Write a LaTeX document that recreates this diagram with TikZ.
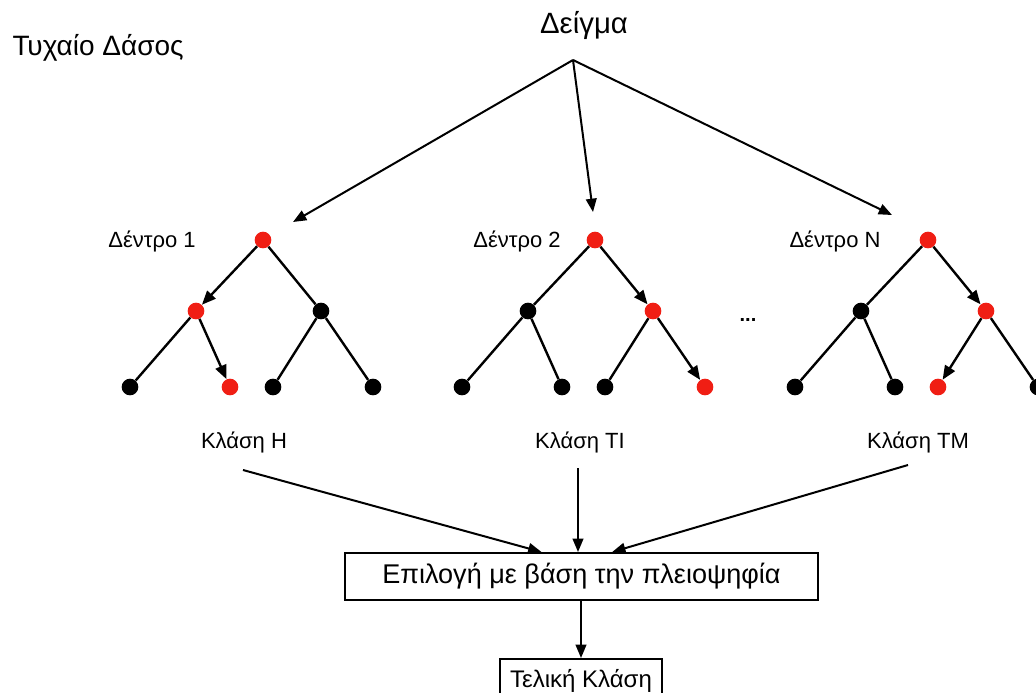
\documentclass[tikz,border=0pt]{standalone}
\usepackage{fontspec}
\setmainfont{Liberation Sans}
\usetikzlibrary{arrows.meta}
\definecolor{pathred}{RGB}{240,30,20}
\begin{document}
\begin{tikzpicture}[x=0.75pt,y=-0.75pt,
  dot/.style={circle,fill=black,inner sep=0pt,minimum size=12.5pt},
  hot/.style={dot,fill=pathred},
  branch/.style={line width=1.8pt},
  chosen/.style={branch,-{Triangle[length=10.5pt,width=8.5pt]}},
  conn/.style={line width=1.5pt,-{Triangle[length=10pt,width=8pt]}},
  bigtext/.style={font=\fontsize{21pt}{25pt}\selectfont},
  midtext/.style={font=\fontsize{16.5pt}{20pt}\selectfont},
  boxed/.style={draw,line width=1.5pt,inner sep=0pt}]
\useasboundingbox (0,0) rectangle (1036,693);
\clip (0,0) rectangle (1036,693);

% titles
\node[bigtext,anchor=west] (title) at (8,48) {Τυχαίο Δάσος};
\node[font=\fontsize{22pt}{26pt}\selectfont] (sample) at (584,25) {Δείγμα};

% sample split into trees
\coordinate (split) at (573,60);
\coordinate (in1) at (293,222);
\coordinate (in2) at (593,212);
\coordinate (in3) at (892,215);
\draw[conn] (split) -- (in1);
\draw[conn] (split) -- (in2);
\draw[conn] (split) -- (in3);

% tree 1
\node[midtext] (lab1) at (152,241) {Δέντρο 1};
\node[hot] (a0) at (263,240) {};
\node[hot] (a1) at (196,311) {};
\node[dot] (a2) at (321,311) {};
\node[dot] (a3) at (130,387) {};
\node[hot] (a4) at (230,387) {};
\node[dot] (a5) at (273,387) {};
\node[dot] (a6) at (373,387) {};
\draw[chosen] (a0) -- (a1);
\draw[branch] (a0) -- (a2);
\draw[branch] (a1) -- (a3);
\draw[chosen] (a1) -- (a4);
\draw[branch] (a2) -- (a5);
\draw[branch] (a2) -- (a6);

% tree 2
\node[midtext] (lab2) at (517,241) {Δέντρο 2};
\node[hot] (b0) at (595,240) {};
\node[dot] (b1) at (528,311) {};
\node[hot] (b2) at (653,311) {};
\node[dot] (b3) at (462,387) {};
\node[dot] (b4) at (562,387) {};
\node[dot] (b5) at (605,387) {};
\node[hot] (b6) at (705,387) {};
\draw[branch] (b0) -- (b1);
\draw[chosen] (b0) -- (b2);
\draw[branch] (b1) -- (b3);
\draw[branch] (b1) -- (b4);
\draw[branch] (b2) -- (b5);
\draw[chosen] (b2) -- (b6);

\node[font=\fontsize{15pt}{18pt}\selectfont\bfseries] (gap) at (748,320) {...};

% tree N
\node[midtext] (lab3) at (835,241) {Δέντρο Ν};
\node[hot] (c0) at (928,240) {};
\node[dot] (c1) at (861,311) {};
\node[hot] (c2) at (986,311) {};
\node[dot] (c3) at (795,387) {};
\node[dot] (c4) at (895,387) {};
\node[hot] (c5) at (938,387) {};
\node[dot] (c6) at (1038,387) {};
\draw[branch] (c0) -- (c1);
\draw[chosen] (c0) -- (c2);
\draw[branch] (c1) -- (c3);
\draw[branch] (c1) -- (c4);
\draw[chosen] (c2) -- (c5);
\draw[branch] (c2) -- (c6);

% tree outputs
\node[midtext] (out1) at (244,442) {Κλάση Η};
\node[midtext] (out2) at (580,442) {Κλάση ΤΙ};
\node[midtext] (out3) at (918,442) {Κλάση ΤΜ};
\coordinate (v1) at (243,470);
\coordinate (v2) at (578,468);
\coordinate (v3) at (908,465);

% voting and result
\node[boxed,font=\fontsize{20.3pt}{24pt}\selectfont,minimum width=354.75pt,minimum height=35.25pt] (vote) at (581.5,576.5) {Επιλογή με βάση την πλειοψηφία};
\node[boxed,font=\fontsize{18pt}{21pt}\selectfont,minimum width=121.5pt,minimum height=33pt] (final) at (581,681) {Τελική Κλάση};
\draw[conn] (v1) -- ([xshift=-30pt]vote.north);
\draw[conn] (v2) -- (vote.north -| v2);
\draw[conn] (v3) -- ([xshift=23pt]vote.north);
\draw[conn] (vote.south -| final.north) -- (final.north);
\end{tikzpicture}
\end{document}
